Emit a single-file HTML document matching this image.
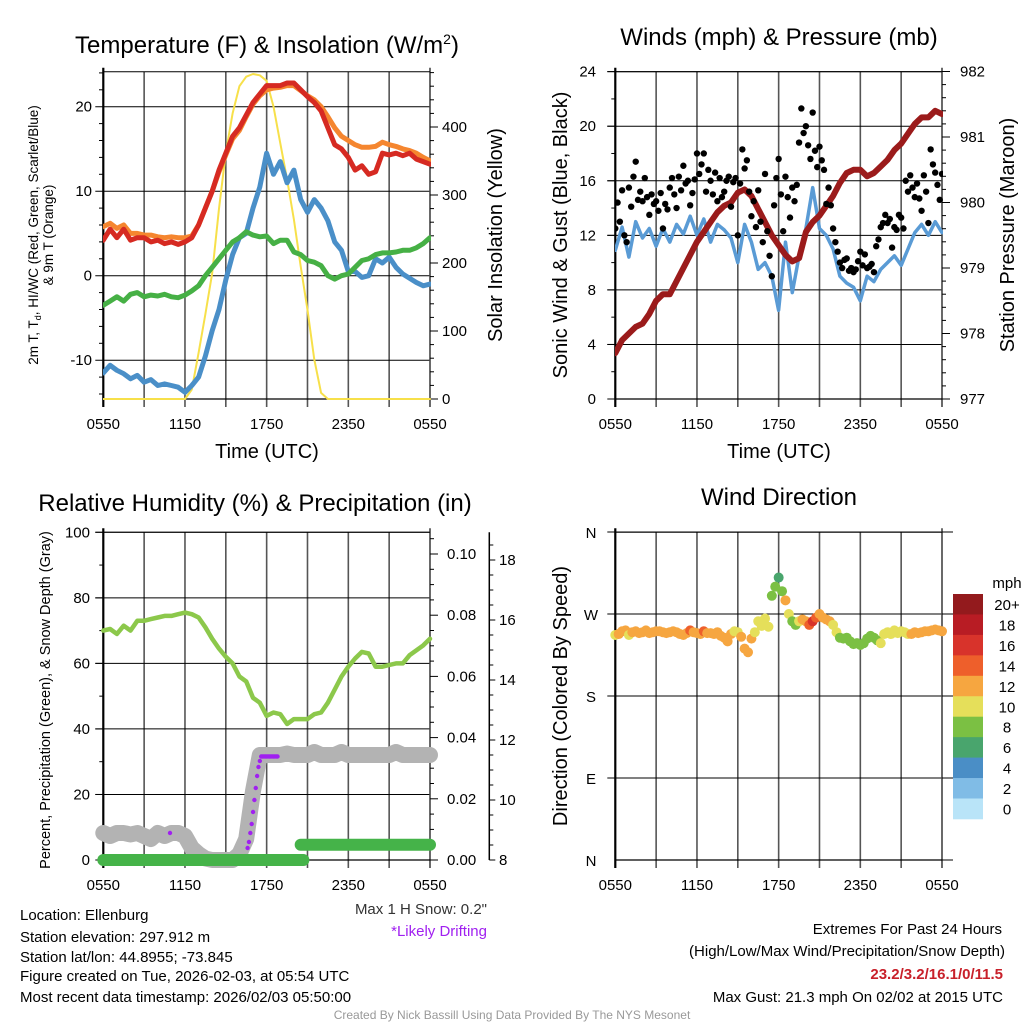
<!DOCTYPE html>
<html><head><meta charset="utf-8"><style>
html,body{margin:0;padding:0;background:#fff;}
svg{display:block;font-family:"Liberation Sans",Arial,sans-serif;}
</style></head><body>
<svg id="c" width="1024" height="1024" viewBox="0 0 1024 1024" xmlns="http://www.w3.org/2000/svg">
<defs>
<clipPath id="c1"><rect x="103" y="71" width="328" height="329"/></clipPath>
<clipPath id="c2"><rect x="615" y="71" width="328" height="329"/></clipPath>
<clipPath id="c3"><rect x="90" y="525" width="360" height="345"/></clipPath>
<clipPath id="c4"><rect x="603" y="525" width="350" height="345"/></clipPath>
</defs>
<text x="267" y="53" font-size="24" text-anchor="middle">Temperature (F) &amp; Insolation (W/m<tspan dy="-9" font-size="14">2</tspan><tspan dy="9">)</tspan></text>
<text x="779" y="45" font-size="24" text-anchor="middle">Winds (mph) &amp; Pressure (mb)</text>
<text x="255" y="511" font-size="24" text-anchor="middle">Relative Humidity (%) &amp; Precipitation (in)</text>
<text x="779" y="505" font-size="24" text-anchor="middle">Wind Direction</text>
<g id="layer"></g>
<g font-size="15">
<text x="20" y="920">Location: Ellenburg</text>
<text x="20" y="942">Station elevation: 297.912 m</text>
<text x="20" y="962">Station lat/lon: 44.8955; -73.845</text>
<text x="20" y="981">Figure created on Tue, 2026-02-03, at 05:54 UTC</text>
<text x="20" y="1002">Most recent data timestamp: 2026/02/03 05:50:00</text>
</g>
<text x="487" y="914" font-size="15" text-anchor="end" fill="#333">Max 1 H Snow: 0.2"</text>
<text x="487" y="936" font-size="15" text-anchor="end" fill="#a020f0">*Likely Drifting</text>
<g font-size="15" text-anchor="end">
<text x="1002" y="934">Extremes For Past 24 Hours</text>
<text x="1005" y="956">(High/Low/Max Wind/Precipitation/Snow Depth)</text>
<text x="1003" y="979" font-weight="bold" fill="#c8202a">23.2/3.2/16.1/0/11.5</text>
<text x="1003" y="1002">Max Gust: 21.3 mph On 02/02 at 2015 UTC</text>
</g>
<text x="512" y="1019" font-size="12" text-anchor="middle" fill="#999">Created By Nick Bassill Using Data Provided By The NYS Mesonet</text>
</svg>
<script>
const hoursLabels=["0550","1150","1750","2350","0550"];
const tempRed=[4.2,5.5,4.5,5.5,4.2,4.5,4.5,4.0,4.2,3.8,4.0,3.7,4.0,4.5,6.0,8.0,10.0,12.5,14.5,16.5,17.5,19.0,20.5,21.5,22.5,22.5,22.5,22.8,22.8,22.0,21.2,20.5,19.5,17.5,15.5,15.0,14.0,12.5,13.0,12.0,12.3,14.5,14.3,14.5,14.2,14.5,13.8,13.5,13.2];
const tempOrange=[5.8,6.2,5.6,6.0,5.0,5.0,4.8,4.8,4.6,4.5,4.6,4.5,4.5,4.7,6.0,8.0,10.0,12.3,14.3,16.2,17.2,18.8,20.3,21.3,22.0,22.2,22.3,22.5,22.5,21.9,21.3,20.8,20.0,18.8,17.5,16.5,16.0,15.5,15.2,15.2,15.3,15.8,15.5,15.3,15.0,14.8,14.5,14.0,13.6];
const tempBlue=[-11.5,-10.6,-11.2,-11.6,-12.2,-11.8,-12.6,-12.3,-13.0,-12.8,-13.0,-13.2,-13.8,-13.0,-12.0,-9.5,-6.5,-4.0,-0.5,2.5,4.5,5.0,8.0,10.5,14.5,12.0,13.5,11.0,12.5,9.0,7.5,9.0,8.0,6.5,4.0,3.0,0.5,0.5,-0.2,0.0,2.0,1.5,2.2,1.0,0.2,-0.3,-0.8,-1.2,-1.0];
const tempGreen=[-3.5,-3.0,-2.5,-3.0,-2.2,-2.0,-2.5,-2.3,-2.4,-2.2,-2.5,-2.6,-2.3,-1.8,-1.2,0.0,1.0,2.0,3.0,4.0,4.5,5.2,4.8,4.6,4.7,3.8,4.2,4.2,2.8,2.5,1.8,1.6,1.2,0.0,-0.4,0.0,0.2,1.0,1.8,2.0,2.5,2.7,2.7,2.8,3.0,3.0,3.3,3.8,4.5];
const solar=[0,0,0,0,0,0,0,0,0,0,0,0,0,14,68,125,185,280,362,420,460,474,478,476,468,430,376,323,264,195,131,58,9,0,0,0,0,0,0,0,0,0,0,0,0,0,0,0,0];
const windSpeed=[10.9,12.6,10.4,13.0,11.8,12.5,11.2,12.5,11.5,12.8,12.1,13.4,12.0,13.2,11.5,12.8,12.4,11.8,10.0,12.8,11.5,9.5,10.0,9.0,6.5,11.5,7.8,10.5,12.5,15.5,12.5,12.0,11.0,9.0,8.5,8.2,7.2,9.0,8.6,9.5,10.0,10.5,9.8,11.0,12.2,12.8,12.0,13.0,12.2];
const pressure=[977.7,977.9,978.0,978.1,978.15,978.3,978.5,978.6,978.6,978.8,979.0,979.2,979.4,979.55,979.7,979.85,979.95,980.0,980.15,980.2,980.1,979.9,979.7,979.5,979.35,979.2,979.1,979.15,979.55,979.7,979.8,979.95,980.1,980.3,980.45,980.5,980.5,980.4,980.45,980.55,980.65,980.8,980.9,981.05,981.2,981.3,981.3,981.4,981.35];
const gusts=[12.5,14.4,13.0,15.3,12.0,11.5,15.5,14.1,16.3,17.4,14.6,15.2,14.5,16.2,14.8,13.5,15.0,14.3,14.5,13.8,15.1,12.5,14.3,13.9,15.5,16.2,15.0,14.0,16.3,15.3,17.1,15.8,16.0,14.2,15.1,16.1,18.0,16.5,17.2,18.0,15.2,16.8,16.0,15.0,16.6,14.5,16.2,14.8,15.2,16.0,16.3,14.1,15.9,16.2,12.0,15.8,18.3,16.9,17.5,15.2,13.4,14.5,12.6,15.3,13.0,11.5,16.5,12.3,10.5,9.0,14.2,16.2,17.6,15.0,12.3,16.3,14.8,13.3,15.5,14.5,15.7,18.8,21.3,19.5,20.0,18.6,17.6,21.0,18.2,17.0,18.5,17.5,16.8,14.3,15.5,14.2,12.5,11.5,10.8,10.0,9.6,10.2,10.3,9.4,9.6,9.3,9.5,10.1,10.8,9.8,10.6,9.6,9.7,9.9,9.3,11.2,11.7,12.6,12.9,13.5,12.9,13.2,11.1,12.6,12.4,13.5,13.3,12.5,16.0,15.2,16.4,15.5,14.8,15.8,14.7,13.8,16.4,15.2,12.9,18.3,17.2,16.6,15.7,14.6,16.5];
const relHum=[70,70.5,69,71.5,70,73,73,73.5,74,74.5,74.5,75,75.5,75,74,71,67.5,64.5,62,60,56,54.5,49.5,48,44,45,44.5,41.5,43,43,43,44.5,45,48,52,56,59,61.5,63.5,63,59,59,59.5,60,60,62.5,64,65.5,67.5];
const snowDepth=[8.9,8.8,8.9,8.9,8.85,8.9,8.8,8.7,8.9,8.8,8.9,8.9,8.8,8.4,8.2,8.05,8.0,8.0,8.0,8.0,8.2,8.7,10.3,11.5,11.5,11.5,11.5,11.55,11.5,11.5,11.5,11.6,11.5,11.5,11.5,11.6,11.5,11.5,11.5,11.5,11.5,11.5,11.5,11.6,11.5,11.5,11.5,11.5,11.5];
const driftHours=[4.9,10.6,10.7,10.8,10.9,11.0,11.1,11.2,11.3,11.4,11.5,11.6,11.7,11.8,11.9,12.0,12.1,12.2,12.3,12.4,12.5,12.6,12.7,12.8];
const driftSnow=[8.9,8.4,8.6,8.9,9.2,9.6,10.0,10.4,10.8,11.1,11.3,11.45,11.45,11.45,11.45,11.45,11.45,11.45,11.45,11.45,11.45,11.45,11.45,11.45];
const precipStart=[0,14.5];
const precipEnd=[14.7,24];
const precipVal=[0,0.005];
const windDir=[247,248,251,252,247,250,251,249,250,252,249,250,251,251,250,249,250,251,250,248,247,249,252,250,249,248,251,249,249,248,250,246,244,240,248,251,250,245,232,228,243,250,262,257,265,256,290,300,310,295,285,270,262,258,262,264,262,258,262,266,270,266,264,262,258,250,244,243,244,240,237,238,236,238,243,246,244,241,238,248,250,248,252,249,251,250,248,248,250,249,250,251,251,252,253,252,251];
const cbLabels=["20+","18","16","14","12","10","8","6","4","2","0"];
const cbColors=["#931a1d","#b81c24","#d8332b","#ee5f2b","#f6a640","#e5df5a","#7bc043","#49a56d","#4a8ec6","#80bce6","#b9e4f8"];

const X1=h=>103.3+h*326.7/24, X2=h=>615.3+h*326.7/24;
const Yt=v=>275.7-v*8.45, Ys=v=>399-v*0.68;
const Yw=v=>399-v*13.64, Yp=p=>399-(p-977)*65.5;
const Yrh=v=>860-v*3.277, Ypr=v=>860-v*3060, Ysn=v=>860-(v-8)*30;
const Yd=d=>860-d*328/360;
const NS="http://www.w3.org/2000/svg";
const layer=document.getElementById('layer');
function mk(tag,attrs,parent){const e=document.createElementNS(NS,tag);for(const k in attrs)e.setAttribute(k,attrs[k]);(parent||layer).appendChild(e);return e;}
function txt(x,y,s,size,anchor,parent,rot){const e=mk('text',{x:x,y:y,'font-size':size,'text-anchor':anchor||'middle'},parent);if(rot)e.setAttribute('transform','rotate(-90 '+x+' '+y+')');e.textContent=s;return e;}
function pathFrom(arr,X,Y,step){let d='';arr.forEach((v,i)=>{d+=(i?'L':'M')+X(i*step).toFixed(1)+','+Y(v).toFixed(1);});return d;}

function frame(x0,y0,x1,y1,hy,name){
  const g=mk('g',{});
  
  
  for(let i=1;i<8;i++){const x=x0+(x1-x0)*i/8;mk('line',{x1:x,y1:y0,x2:x,y2:y1+8,stroke:'#555','stroke-width':1.6},g);}
  hy.forEach(y=>mk('line',{x1:x0-8,y1:y,x2:x1,y2:y,stroke:'#000','stroke-width':1},g));
  mk('line',{x1:x0,y1:y0-4,x2:x0,y2:y1+8,stroke:'#000','stroke-width':2.2},g);
  mk('line',{x1:x1,y1:y0-4,x2:x1,y2:y1+8,stroke:'#444','stroke-width':1.6},g);
  mk('line',{x1:x0,y1:y0,x2:x1,y2:y0,stroke:'#000','stroke-width':1},g);
  mk('line',{x1:x0,y1:y1,x2:x1,y2:y1,stroke:'#000','stroke-width':1.2},g);
  hoursLabels.forEach((l,i)=>{const t=txt(x0+(x1-x0)*i/4,y1+30,l,15,'middle',g);});
  return g;
}
function line(d,color,w,clip,name){const p=mk('path',{d:d,fill:'none',stroke:color,'stroke-width':w,'stroke-linejoin':'round','stroke-linecap':'round','clip-path':'url(#'+clip+')'});
  
  
  return p;}

frame(103.3,71.7,430,399,[Yt(20),Yt(10),Yt(0),Yt(-10)],'temperature');
[20,10,0,-10].forEach(v=>{const t=txt(92,Yt(v)+5,String(v),15,'end');});
for(let v=-14;v<=24;v+=2){if(v%10)mk('line',{x1:99,y1:Yt(v),x2:103,y2:Yt(v),stroke:'#000'});}
for(let v=0;v<=480;v+=20){const big=v%100==0;mk('line',{x1:430,y1:Ys(v),x2:430+(big?8:4),y2:Ys(v),stroke:'#000'});
  if(big){const t=txt(442,Ys(v)+5,String(v),15,'start');}}
{const t=txt(267,458,'Time (UTC)',20);}
{const g=mk('text',{x:38,y:235,'font-size':13.5,'text-anchor':'middle',transform:'rotate(-90 38 235)'});g.innerHTML='2m T, T<tspan font-size="9" dy="3">d</tspan><tspan dy="-3">, HI/WC (Red, Green, Scarlet/Blue)</tspan>';
 
 const t=txt(53,235,'& 9m T (Orange)',13.5,'middle',null,true);}
{const t=txt(502,235,'Solar Insolation (Yellow)',20,'middle',null,true);}
line(pathFrom(solar,X1,Ys,0.5),'#f7e04a',2,'c1','solar-line');
line(pathFrom(tempBlue,X1,Yt,0.5),'#4a8fc8',5,'c1','windchill-line');
line(pathFrom(tempGreen,X1,Yt,0.5),'#46b045',5,'c1','dewpoint-line');
line(pathFrom(tempOrange,X1,Yt,0.5),'#f5862f',5,'c1','temp-9m-line');
line(pathFrom(tempRed,X1,Yt,0.5),'#d62a22',5,'c1','temp-2m-line');

frame(615.3,71.7,942,399,[Yw(24),Yw(20),Yw(16),Yw(12),Yw(8),Yw(4)],'winds');
for(let v=0;v<=24;v+=2){const big=v%4==0;mk('line',{x1:615.3-(big?8:4),y1:Yw(v),x2:615.3,y2:Yw(v),stroke:'#000'});
  if(big){const t=txt(596,Yw(v)+5,String(v),15,'end');}}
for(let p=977;p<=982.001;p+=0.2){const big=Math.abs(p-Math.round(p))<0.01;mk('line',{x1:942,y1:Yp(p),x2:942+(big?8:4),y2:Yp(p),stroke:'#000'});
  if(big){const t=txt(960,Yp(p)+5,String(Math.round(p)),15,'start');}}
{const t=txt(779,458,'Time (UTC)',20);}
{const t=txt(567,235,'Sonic Wind & Gust (Blue, Black)',20,'middle',null,true);}
{const t=txt(1014,235,'Station Pressure (Maroon)',20,'middle',null,true);}
line(pathFrom(windSpeed,X2,Yw,0.5),'#5a9bd5',3.5,'c2','wind-speed-line');
line(pathFrom(pressure,X2,Yp,0.5),'#9b1b1b',6,'c2','pressure-line');
gusts.forEach((g,i)=>{const c=mk('circle',{cx:X2(i/6),cy:Yw(g),r:3.2,fill:'#000','clip-path':'url(#c2)'});
  
  });

frame(103.3,532.3,430,860,[Yrh(100),Yrh(80),Yrh(60),Yrh(40),Yrh(20)],'humidity');
for(let v=0;v<=100;v+=10){const big=v%20==0;mk('line',{x1:103.3-(big?8:4),y1:Yrh(v),x2:103.3,y2:Yrh(v),stroke:'#000'});
  if(big){const t=txt(90,Yrh(v)+5,String(v),15,'end');}}
for(let k=0;k<=21;k++){const v=k*0.005;const big=k%4==0;const y=Ypr(v);if(y<532)break;mk('line',{x1:430,y1:y,x2:430+(big?8:4),y2:y,stroke:'#000'});
  if(big){const t=txt(447,y+5,v.toFixed(2),15,'start');}}
mk('line',{x1:489.3,y1:532.3,x2:489.3,y2:860,stroke:'#000','stroke-width':1.5});
for(let v=8;v<=18.8;v+=0.5){const big=Math.abs(v-Math.round(v))<0.01&&Math.round(v)%2==0;mk('line',{x1:489.3,y1:Ysn(v),x2:489.3+(big?6:4),y2:Ysn(v),stroke:'#000'});
  if(big){const t=txt(499,Ysn(v)+5,String(Math.round(v)),15,'start');}}
{const t=txt(50,700,'Percent, Precipitation (Green), & Snow Depth (Gray)',14.5,'middle',null,true);}
line(pathFrom(snowDepth,X1,Ysn,0.5),'#b3b3b3',16,'c3','snow-depth-line');
precipVal.forEach((v,i)=>{const p=mk('line',{x1:X1(precipStart[i]),y1:Ypr(v),x2:X1(precipEnd[i]),y2:Ypr(v),stroke:'#45b349','stroke-width':12,'stroke-linecap':'round'});
  
  });
line(pathFrom(relHum,X1,Yrh,0.5),'#8cc84b',4.5,'c3','rh-line');
driftHours.forEach((h,i)=>{const c=mk('circle',{cx:X1(h),cy:Ysn(driftSnow[i]),r:2.2,fill:'#a020f0'});
  
  });

frame(615.3,532.3,942,860,[Yd(360),Yd(270),Yd(180),Yd(90)],'direction');
[[360,'N'],[270,'W'],[180,'S'],[90,'E'],[0,'N']].forEach(a=>{mk('line',{x1:942,y1:Yd(a[0]),x2:953,y2:Yd(a[0]),stroke:'#000'});
  const t=txt(591,Yd(a[0])+6,a[1],15,'middle');});
{const t=txt(567,696,'Direction (Colored By Speed)',20,'middle',null,true);}
function speedAt(h){const i=Math.min(47,Math.floor(h/0.5));const f=h/0.5-i;return windSpeed[i]*(1-f)+windSpeed[i+1]*f;}
function colorFor(s){let idx=10-Math.floor(s/2);if(idx<0)idx=0;if(idx>10)idx=10;return cbColors[idx];}
windDir.forEach((d,i)=>{const h=i*0.25;const c=mk('circle',{cx:X2(h),cy:Yd(d),r:5,fill:colorFor(speedAt(h)+0.8),'clip-path':'url(#c4)'});
  
  });
{const t=txt(1007,588,'mph',15,'middle');}
cbColors.forEach((col,i)=>{const y=594+i*20.45;const r=mk('rect',{x:953,y:y,width:30,height:20.8,fill:col});
  
  
  const t=txt(1007,y+16,cbLabels[i],15,'middle');});
</script>
</body></html>
